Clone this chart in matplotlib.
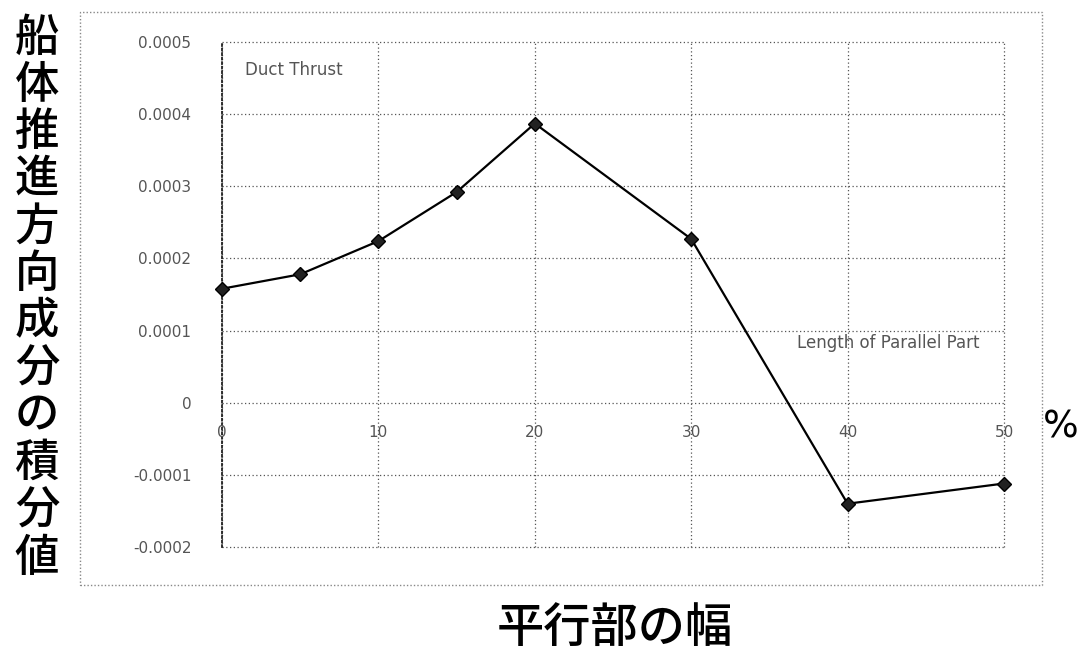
import matplotlib
matplotlib.use("Agg")
import matplotlib.pyplot as plt
from matplotlib.patches import Rectangle
import matplotlib.transforms as mtransforms

plt.rcParams['font.family'] = ['Noto Sans CJK JP', 'DejaVu Sans']

# Data
x_vals = [0, 5, 10, 15, 20, 30, 40, 50]
y_vals = [0.000158, 0.000178, 0.000224, 0.000292, 0.000387, 0.000227, -0.000140, -0.000112]
x_ticks = [0, 10, 20, 30, 40, 50]
y_ticks = [-0.0002, -0.0001, 0, 0.0001, 0.0002, 0.0003, 0.0004, 0.0005]
y_tick_labels = ['-0.0002', '-0.0001', '0', '0.0001', '0.0002', '0.0003', '0.0004', '0.0005']
ylabel_text = "船体推進方向成分の積分値"
xlabel_text = "平行部の幅"
title_text = "Duct Thrust"
xaxis_name = "Length of Parallel Part"

W, H = 1085, 652
fig = plt.figure(figsize=(W / 100, H / 100), dpi=100)

# outer dotted box
fig.patches.append(Rectangle((80 / W, 1 - 585 / H), (1042 - 80) / W, (585 - 12) / H,
                             transform=fig.transFigure, fill=False,
                             edgecolor='#888888', linestyle=(0, (1, 1.5)), linewidth=1.0))

ax = fig.add_axes([222 / W, 1 - 547 / H, (1004 - 222) / W, (547 - 42) / H])
ax.set_xlim(0, 50)
ax.set_ylim(-0.0002, 0.0005)

ax.plot(x_vals, y_vals, color='black', linewidth=1.6, marker='D', markersize=7,
        markerfacecolor='#222222', markeredgecolor='black', zorder=5, clip_on=False)

ax.set_xticks(x_ticks)
ax.set_yticks(y_ticks)
ax.set_yticklabels(y_tick_labels)
ax.grid(True, color='#555555', linestyle=(0, (1, 2)), linewidth=0.9)
for gl in ax.get_xgridlines() + ax.get_ygridlines():
    gl.set_clip_on(False)
ax.tick_params(axis='both', length=0, labelsize=11, labelcolor='#555555')
ax.tick_params(axis='y', pad=22)
for lbl in ax.get_yticklabels():
    lbl.set_fontfamily(['DejaVu Sans'])

for s in ['top', 'right', 'bottom']:
    ax.spines[s].set_visible(False)
ax.spines['left'].set_linestyle((0, (1, 1.5)))
ax.spines['left'].set_color('#222222')
ax.spines['left'].set_linewidth(1.3)

# x tick labels sit just below the zero line
ax.xaxis.set_tick_params(labelbottom=False)
offset = mtransforms.ScaledTranslation(0, -16 / 72, fig.dpi_scale_trans)
for xv in x_ticks:
    ax.text(xv, 0, str(xv), ha='center', va='top', fontsize=11, color='#555555',
            family=['DejaVu Sans'], transform=ax.transData + offset)

fig.text(245 / W, 1 - 70 / H, title_text, fontsize=12, color='#555555',
         family=['DejaVu Sans'], ha='left', va='center')
fig.text(797 / W, 1 - 343 / H, xaxis_name, fontsize=12, color='#555555',
         family=['DejaVu Sans'], ha='left', va='center')
fig.text(1061 / W, 1 - 428 / H, '%', fontsize=27, color='black',
         family=['DejaVu Sans'], ha='center', va='center')

fig.text(37 / W, 1 - 298 / H, "\n".join(ylabel_text), fontsize=32, color='black',
         ha='center', va='center', linespacing=1.065, fontweight='medium')
fig.text(615 / W, 1 - 628 / H, xlabel_text, fontsize=34, color='black',
         ha='center', va='center', fontweight='medium')

fig.savefig('out.png', dpi=100)
